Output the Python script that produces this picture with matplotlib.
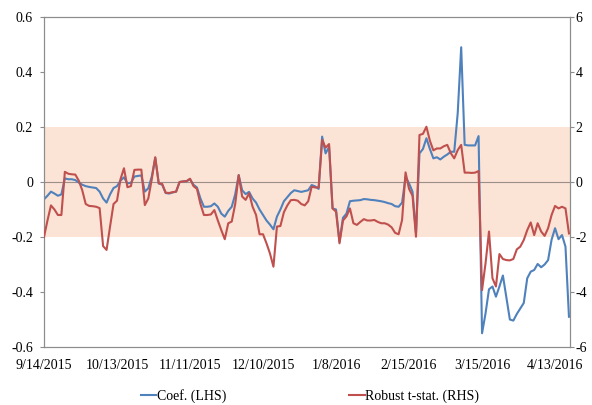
import matplotlib
matplotlib.use("Agg")
import matplotlib.pyplot as plt

TICK_LABELS = ["9/14/2015", "10/13/2015", "11/11/2015", "12/10/2015",
               "1/8/2016", "2/15/2016", "3/15/2016", "4/13/2016"]
TICK_STEP = 21

coef = [
    -0.063, -0.05, -0.035, -0.042, -0.05, -0.045, 0.013, 0.01, 0.01, 0.007,
    -0.002, -0.01, -0.015, -0.018, -0.02, -0.022, -0.035, -0.06, -0.075, -0.045,
    -0.022, -0.015, 0.005, 0.017, -0.005, -0.003, 0.02, 0.022, 0.024, -0.035,
    -0.023, 0.02, 0.088, -0.005, -0.01, -0.04, -0.042, -0.038, -0.035, 0.0,
    0.002, 0.003, 0.01, -0.01, -0.02, -0.06, -0.09, -0.09, -0.088, -0.078,
    -0.09, -0.115, -0.126, -0.105, -0.09, -0.045, 0.025, -0.03, -0.044, -0.036,
    -0.06, -0.075, -0.1, -0.12, -0.14, -0.155, -0.172, -0.126, -0.1, -0.07,
    -0.055, -0.04, -0.03, -0.033, -0.036, -0.033, -0.03, -0.011, -0.016, -0.025,
    0.165, 0.104, 0.128, -0.096, -0.1, -0.217, -0.13, -0.115, -0.07, -0.068,
    -0.067, -0.066, -0.062, -0.063, -0.065, -0.066, -0.068, -0.07, -0.073, -0.077,
    -0.08, -0.088, -0.09, -0.075, 0.019, -0.005, -0.035, -0.186, 0.104, 0.12,
    0.159, 0.12, 0.086, 0.09, 0.082, 0.092, 0.1, 0.11, 0.11, 0.25,
    0.49, 0.135, 0.133, 0.133, 0.133, 0.167, -0.55, -0.478, -0.39, -0.38,
    -0.417, -0.38, -0.34, -0.42, -0.5, -0.504, -0.48, -0.46, -0.44, -0.35,
    -0.326, -0.32, -0.298, -0.31, -0.3, -0.284, -0.21, -0.168, -0.208, -0.193,
    -0.235, -0.49,
]

tstat = [
    -2.0, -1.4, -0.85, -1.0, -1.2, -1.2, 0.37, 0.3, 0.28, 0.27,
    0.05, -0.3, -0.8, -0.87, -0.88, -0.9, -0.95, -2.33, -2.47, -1.62,
    -0.8, -0.68, 0.1, 0.5, -0.19, -0.15, 0.44, 0.45, 0.45, -0.84,
    -0.6, 0.1, 0.9, -0.05, -0.07, -0.39, -0.4, -0.37, -0.35, 0.0,
    0.02, 0.03, 0.12, -0.15, -0.25, -0.8, -1.2, -1.2, -1.18, -1.02,
    -1.4, -1.75, -2.08, -1.5, -1.44, -0.8, 0.25, -0.53, -0.65, -0.41,
    -0.9, -1.2, -1.9, -1.9, -2.23, -2.6, -3.08, -1.62, -1.6, -1.1,
    -0.85, -0.66, -0.65, -0.68, -0.8, -0.85, -0.7, -0.17, -0.2, -0.2,
    1.53, 1.25, 1.38, -0.96, -1.08, -2.23, -1.4, -1.25, -0.96, -1.5,
    -1.56, -1.45, -1.35, -1.4, -1.4, -1.38, -1.45, -1.5, -1.5, -1.55,
    -1.65, -1.85, -1.9, -1.38, 0.35, -0.25, -0.5, -1.99, 1.71, 1.75,
    2.01, 1.5, 1.15, 1.22, 1.22, 1.3, 1.35, 1.05, 0.86, 1.16,
    1.35, 0.34, 0.34, 0.33, 0.34, 0.4, -3.93, -2.96, -1.8, -3.5,
    -3.8, -2.62, -2.8, -2.84, -2.85, -2.8, -2.45, -2.35, -2.11, -1.75,
    -1.47, -1.93, -1.5, -1.8, -1.96, -1.68, -1.2, -0.87, -0.96, -0.9,
    -0.96, -1.87,
]

left_ticks = [-0.6, -0.4, -0.2, 0, 0.2, 0.4, 0.6]
left_labels = ["-0.6", "-0.4", "-0.2", "0", "0.2", "0.4", "0.6"]
right_ticks = [-6, -4, -2, 0, 2, 4, 6]
right_labels = ["-6", "-4", "-2", "0", "2", "4", "6"]

plt.rcParams["font.family"] = ["Liberation Serif", "DejaVu Serif"]
plt.rcParams["font.size"] = 10

BLUE = "#4F81BD"
RED = "#C0504D"
GREY = "#8C8C8C"

x = list(range(len(coef)))

fig = plt.figure(figsize=(5.92, 4.05), dpi=100)
ax = fig.add_axes([44 / 592, 1 - 347 / 405, 526 / 592, 330 / 405])
ax2 = ax.twinx()

# shaded band between -0.2 and 0.2 and the zero line
ax.axhspan(-0.2, 0.2, color="#FBE3D6", lw=0, zorder=0)
ax.axhline(0, color="#9C8F8A", lw=0.8, zorder=1)

l1, = ax.plot(x, coef, color=BLUE, lw=1.5, label="Coef. (LHS)", zorder=3)
l2, = ax2.plot(x, tstat, color=RED, lw=1.5, label="Robust t-stat. (RHS)", zorder=3)

ax.set_xlim(0, len(coef) - 0.7)
ax.set_ylim(-0.6, 0.6)
ax2.set_ylim(-6, 6)

ax.set_yticks(left_ticks)
ax.set_yticklabels(left_labels)
ax2.set_yticks(right_ticks)
ax2.set_yticklabels(right_labels)
ax.set_xticks([i * TICK_STEP for i in range(len(TICK_LABELS))])
ax.set_xticklabels(TICK_LABELS)

ax.tick_params(axis="x", length=0, pad=8.5, labelsize=10)
ax.tick_params(axis="y", length=3, width=0.8, color=GREY, pad=5, labelsize=10)
ax2.tick_params(axis="y", length=3, width=0.8, color=GREY, pad=1, labelsize=10)

for a in (ax, ax2):
    for s in a.spines.values():
        s.set_color(GREY)
        s.set_linewidth(0.8)

fig.legend(handles=[l1, l2], loc="center", bbox_to_anchor=(310 / 592, 1 - 396 / 405),
           ncol=2, frameon=False, fontsize=10, handlelength=1.1,
           handletextpad=0.05, columnspacing=8.9)

fig.savefig("out.png", dpi=100)
